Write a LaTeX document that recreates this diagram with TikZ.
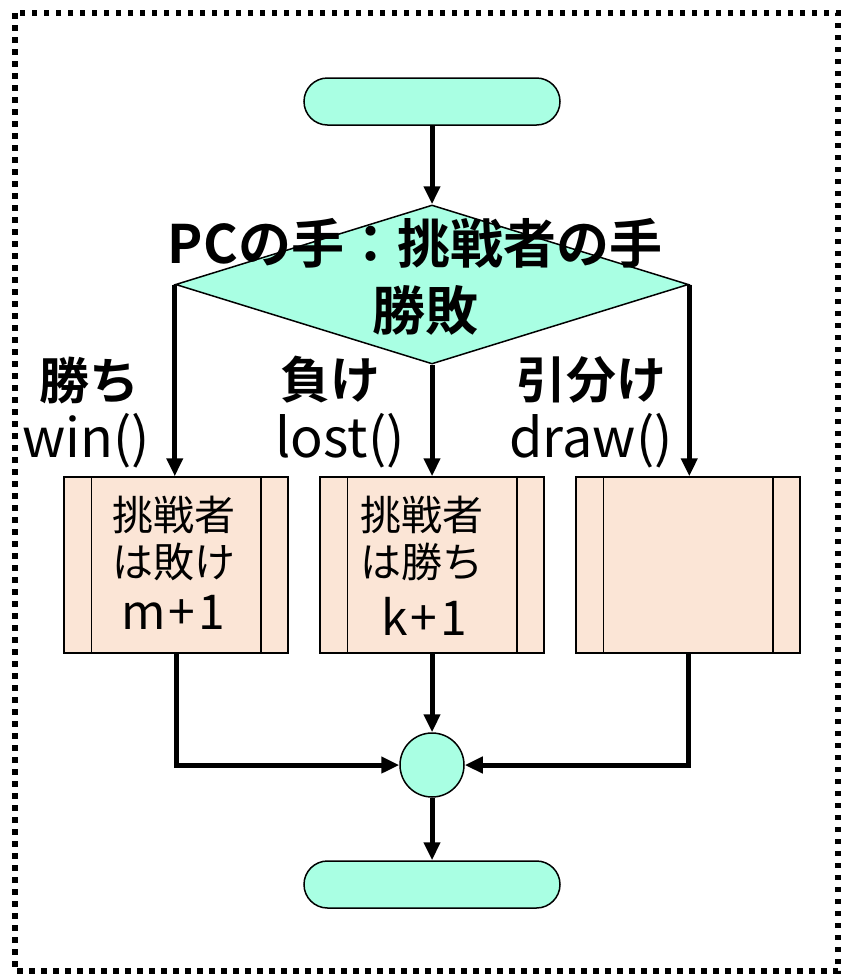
\documentclass[tikz,border=0pt]{standalone}
\usepackage{fontspec}
\setmainfont{Noto Sans CJK JP}
\newfontfamily\jpb{Noto Sans CJK JP Bold}
\usetikzlibrary{shapes.geometric,shapes.misc,arrows.meta}
\definecolor{aqua}{HTML}{A9FFE3}
\definecolor{peach}{HTML}{FBE5D6}
\begin{document}
\begin{tikzpicture}[x=1pt,y=-1pt,
  term/.style={rounded rectangle, draw, line width=1.5pt, fill=aqua, minimum width=256pt, minimum height=47pt, inner sep=0pt},
  dec/.style={diamond, draw, line width=1.5pt, fill=aqua, minimum width=513pt, minimum height=159pt, inner sep=0pt},
  proc/.style={rectangle, draw, line width=1.5pt, fill=peach, minimum width=224pt, minimum height=176pt, inner sep=0pt},
  conn/.style={circle, draw, line width=1.5pt, fill=aqua, minimum size=64pt, inner sep=0pt},
  flow/.style={line width=5pt, -{Triangle[length=18pt,width=16pt]}},
  bigbold/.style={inner sep=0pt, font=\jpb\fontsize{53}{60}\selectfont},
  lblbold/.style={inner sep=0pt, font=\jpb\fontsize{50}{56}\selectfont},
  lblfun/.style={inner sep=0pt, font=\fontsize{54}{60}\selectfont},
  boxtxt/.style={inner sep=0pt, font=\fontsize{41}{48}\selectfont},
  boxnum/.style={inner sep=0pt, font=\fontsize{48}{52}\selectfont}]
\useasboundingbox (0,0) rectangle (842,975);
\draw[line width=5.5pt, dash pattern=on 5.5pt off 6.5pt] (15,13) rectangle (838,971);

\node[term] (start) at (432,101.5) {};
\node[dec] (d) at (432,284.5) {};
\node[bigbold] (q1) at (415,243) {PCの手：挑戦者の手};
\node[bigbold] (q2) at (425,310) {勝敗};

\node[proc] (b1) at (176,565) {};
\node[proc] (b2) at (432,565) {};
\node[proc] (b3) at (688,565) {};
\foreach \b in {b1,b2,b3}{
  \draw[line width=1.5pt] ([xshift=28pt]\b.north west) -- ([xshift=28pt]\b.south west);
  \draw[line width=1.5pt] ([xshift=-28pt]\b.north east) -- ([xshift=-28pt]\b.south east);
}
\node[boxtxt] (t1a) at (174,515) {挑戦者};
\node[boxtxt] (t1b) at (174,562) {は敗け};
\node[boxnum] (t1c) at (173,612) {m\kern3pt+\kern3pt1};
\node[boxtxt] (t2a) at (422,515) {挑戦者};
\node[boxtxt] (t2b) at (422,562) {は勝ち};
\node[boxnum] (t2c) at (424,616) {k\kern3pt+\kern3pt1};

\node[lblbold] (l1a) at (89,380) {勝ち};
\node[lblfun] (l1b) at (86,441) {win()};
\node[lblbold] (l2a) at (330,380) {負け};
\node[lblfun] (l2b) at (340,441) {lost()};
\node[lblbold] (l3a) at (591,380) {引分け};
\node[lblfun] (l3b) at (591,441) {draw()};

\node[conn] (c) at (432,765) {};
\node[term] (end) at (432,884.5) {};

\draw[flow] (start) -- (d);
\draw[flow] (d.west) -- (d.west |- b1.north);
\draw[flow] (d.south) -- (b2.north);
\draw[flow] (d.east) -- (d.east |- b3.north);
\draw[flow] (b1.south) |- (c.west);
\draw[flow] (b2.south) -- (c.north);
\draw[flow] (b3.south) |- (c.east);
\draw[flow] (c) -- (end);
\end{tikzpicture}
\end{document}
